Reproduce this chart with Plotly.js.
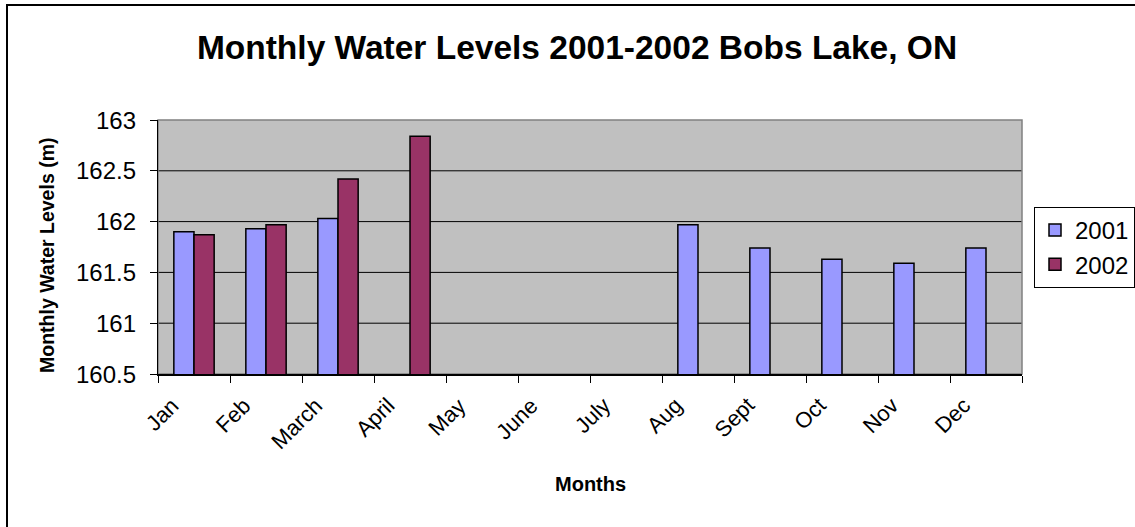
<!DOCTYPE html>
<html>
<head>
<meta charset="utf-8">
<script src="https://cdn.plot.ly/plotly-3.0.1.min.js"></script>
<style>
  html, body { margin: 0; padding: 0; background: #ffffff; }
  #wrap { position: relative; width: 1135px; height: 527px; overflow: hidden; }
  #chart { position: absolute; left: 0; top: 0; width: 1135px; height: 527px; }
  #frame { position: absolute; left: 6px; top: 4px; width: 1200px; height: 600px;
           border-left: 2px solid #000; border-top: 2px solid #000; pointer-events: none; }
</style>
</head>
<body>
<div id="wrap">
  <div id="chart"></div>
  <div id="frame"></div>
</div>
<script>
const months = ["Jan", "Feb", "March", "April", "May", "June", "July", "Aug", "Sept", "Oct", "Nov", "Dec"];
const levels2001 = [161.90, 161.93, 162.03, null, null, null, null, 161.97, 161.74, 161.63, 161.59, 161.74];
const levels2002 = [161.87, 161.97, 162.42, 162.84, null, null, null, null, null, null, null, null];
const seriesNames = ["2001", "2002"];
const yTicks = [160.5, 161, 161.5, 162, 162.5, 163];
const yTickText = ["160.5", "161", "161.5", "162", "162.5", "163"];
const yRange = [160.5, 163];

const FONT = '"Liberation Sans", Arial, Helvetica, sans-serif';
const PLOT_W = 1135 - 158 - 113;
const PLOT_H = 527 - 120 - 153;

const traces = [
  {
    type: 'bar', name: seriesNames[0], x: months, y: levels2001,
    marker: { color: '#9999FF', line: { color: '#000000', width: 1.5 } },
    hoverinfo: 'x+y+name'
  },
  {
    type: 'bar', name: seriesNames[1], x: months, y: levels2002,
    marker: { color: '#993366', line: { color: '#000000', width: 1.5 } },
    hoverinfo: 'x+y+name'
  }
];

// interior gridlines (range ends are framed by the plot-area border)
const gridShapes = yTicks
  .filter(v => v > yRange[0] && v < yRange[1])
  .map(v => ({ type: 'line', xref: 'paper', yref: 'y', x0: 0, x1: 1, y0: v, y1: v,
               line: { color: '#000000', width: 1 }, layer: 'below' }));

// y tick labels, placed on the y scale
const yLabelAnn = yTicks.map((v, i) => ({
  text: yTickText[i], xref: 'paper', yref: 'y', x: -20 / PLOT_W, y: v,
  xanchor: 'right', yanchor: 'middle', showarrow: false,
  font: { family: FONT, size: 24, color: '#000000' }
}));

// x tick labels (rotated), placed on the category scale
const xLabelAnn = months.map(m => ({
  text: m, xref: 'x', yref: 'paper', x: m, y: -16 / PLOT_H,
  xanchor: 'right', yanchor: 'top', xshift: -8, textangle: -45, showarrow: false,
  font: { family: FONT, size: 22, color: '#000000' }
}));

const layout = {
  width: 1135, height: 527,
  margin: { l: 158, r: 113, t: 120, b: 153, pad: 0, autoexpand: false },
  paper_bgcolor: '#ffffff',
  plot_bgcolor: '#C0C0C0',
  font: { family: FONT, color: '#000000' },
  barmode: 'group',
  bargap: 0.44,
  bargroupgap: 0,
  title: {
    text: '<b>Monthly Water Levels 2001-2002 Bobs Lake, ON</b>',
    font: { family: FONT, size: 33.5, color: '#000000' },
    x: 577 / 1135, xanchor: 'center', xref: 'container',
    y: 1 - 47 / 527, yanchor: 'middle', yref: 'container'
  },
  xaxis: {
    type: 'category',
    categoryorder: 'array', categoryarray: months,
    range: [-0.5, months.length - 0.5],
    autorange: false,
    showticklabels: false,
    ticks: 'outside', ticklen: 7, tickwidth: 1, tickcolor: '#000000',
    tickson: 'boundaries',
    showline: true, linecolor: '#000000', linewidth: 1.5,
    showgrid: false, zeroline: false,
    automargin: false
  },
  yaxis: {
    range: yRange,
    autorange: false,
    tickvals: yTicks,
    showticklabels: false,
    ticks: 'outside', ticklen: 7, tickwidth: 1, tickcolor: '#000000',
    showline: true, linecolor: '#000000', linewidth: 1.5,
    showgrid: false,
    zeroline: false,
    automargin: false
  },
  annotations: yLabelAnn.concat(xLabelAnn).concat([
    { text: '<b>Monthly Water Levels (m)</b>', xref: 'paper', yref: 'paper',
      x: (47 - 158) / PLOT_W, y: (374 - 256) / PLOT_H, textangle: -90,
      xanchor: 'center', yanchor: 'middle', showarrow: false,
      font: { family: FONT, size: 19.5, color: '#000000' } },
    { text: '<b>Months</b>', xref: 'paper', yref: 'paper', x: 0.5, y: (374 - 484) / PLOT_H,
      xanchor: 'center', yanchor: 'middle', showarrow: false,
      font: { family: FONT, size: 20, color: '#000000' } }
  ]),
  legend: {
    x: (1034 - 158) / PLOT_W, xanchor: 'left',
    y: (374 - 207) / PLOT_H, yanchor: 'top',
    bgcolor: '#ffffff', bordercolor: '#000000', borderwidth: 1,
    font: { family: FONT, size: 24, color: '#000000' },
    traceorder: 'normal',
    itemwidth: 30
  },
  shapes: gridShapes.concat([
    { type: 'rect', xref: 'paper', yref: 'paper', x0: 0, x1: 1, y0: 0, y1: 1,
      line: { color: '#808080', width: 1.5 }, layer: 'below', fillcolor: 'rgba(0,0,0,0)' }
  ]),
  showlegend: true
};

Plotly.newPlot('chart', traces, layout, { displayModeBar: false, staticPlot: true });
</script>
</body>
</html>
